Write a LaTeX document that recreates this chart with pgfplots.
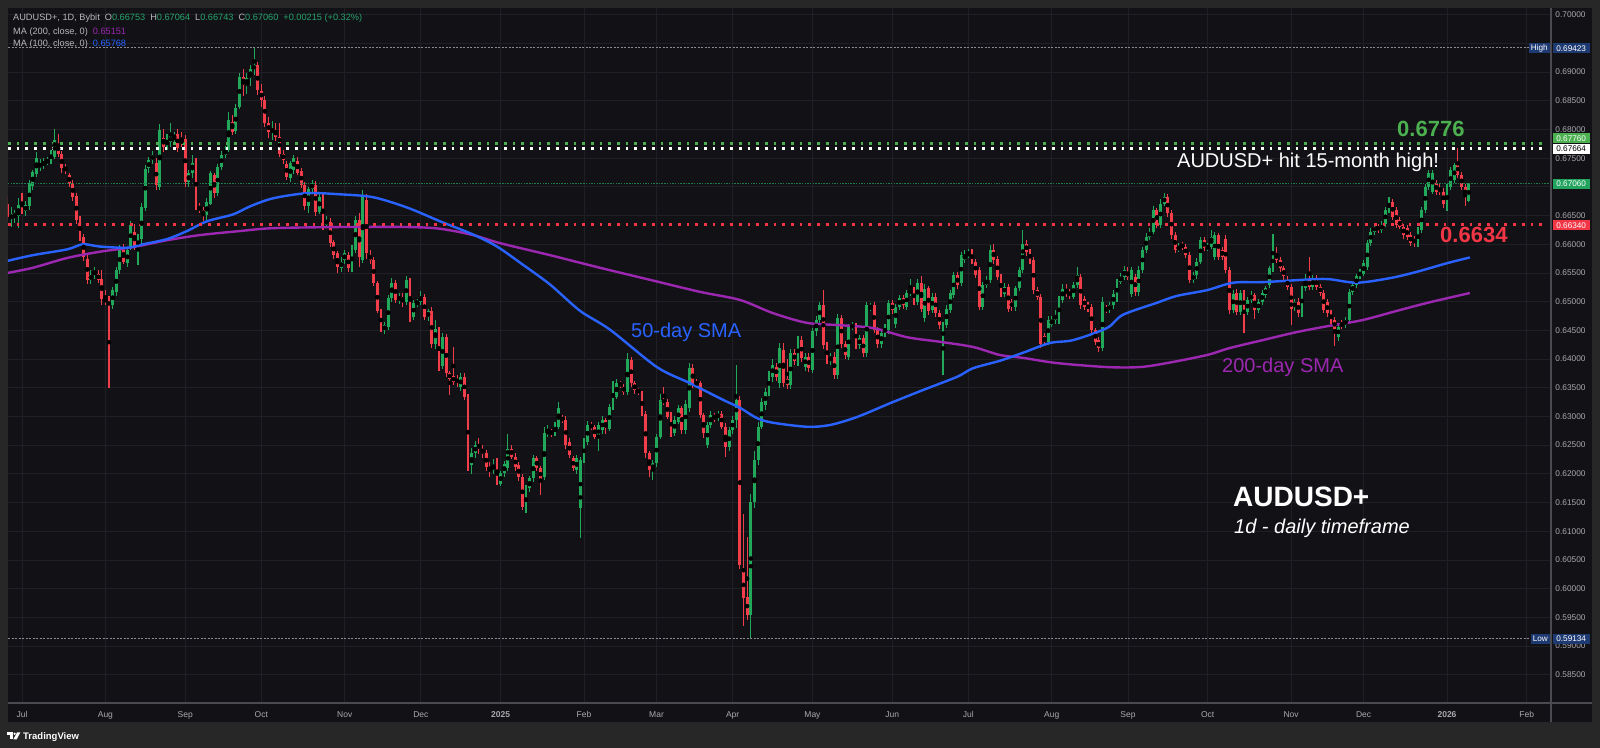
\documentclass[border=0pt]{standalone}
\usepackage{fontspec}
\setmainfont{Liberation Sans}
\usepackage{pgfplots}
\pgfplotsset{compat=1.18}
\usepackage{pgfplotstable}
\definecolor{outerbg}{HTML}{272727}
\definecolor{panelbg}{HTML}{121216}
\definecolor{gridc}{HTML}{1F1F25}
\definecolor{axisc}{HTML}{4A4A50}
\definecolor{tickc}{HTML}{A8A8AE}
\definecolor{upc}{HTML}{22A85B}
\definecolor{downc}{HTML}{F23D4A}
\definecolor{ma50}{HTML}{2962FF}
\definecolor{ma200}{HTML}{9C27B0}
\definecolor{dotgreen}{HTML}{4CAF50}
\definecolor{redlvl}{HTML}{F23645}
\definecolor{curgreen}{HTML}{1E7A4C}
\definecolor{hlgrey}{HTML}{8A8A90}
\definecolor{navy}{HTML}{1E3A72}
\definecolor{legc}{HTML}{B8B8BC}
\definecolor{legval}{HTML}{26A269}
\definecolor{pxgreen}{HTML}{22A35E}

\pgfplotstableread{
i o h l c
-4 0.6671 0.6682 0.6642 0.6648
-3 0.6645 0.6665 0.6630 0.6652
-2 0.6648 0.6660 0.6638 0.6654
-1 0.6650 0.6680 0.6628 0.6668
0 0.6676 0.6690 0.6652 0.6660
1 0.6658 0.6675 0.6650 0.6668
2 0.6666 0.6712 0.6660 0.6706
3 0.6702 0.6730 0.6695 0.6726
4 0.6722 0.6760 0.6718 0.6750
5 0.6735 0.6748 0.6728 0.6740
6 0.6740 0.6750 0.6732 0.6742
7 0.6742 0.6752 0.6738 0.6747
8 0.6747 0.6765 0.6740 0.6758
9 0.6752 0.6800 0.6748 0.6782
10 0.6775 0.6792 0.6752 0.6758
11 0.6758 0.6762 0.6725 0.6732
12 0.6734 0.6740 0.6722 0.6729
13 0.6721 0.6725 0.6700 0.6706
14 0.6706 0.6712 0.6675 0.6683
15 0.6685 0.6690 0.6635 0.6642
16 0.6642 0.6650 0.6605 0.6613
17 0.6613 0.6618 0.6570 0.6578
18 0.6575 0.6582 0.6530 0.6538
19 0.6538 0.6555 0.6530 0.6546
20 0.6550 0.6560 0.6540 0.6552
21 0.6548 0.6555 0.6532 0.6538
22 0.6540 0.6555 0.6495 0.6505
23 0.6505 0.6520 0.6495 0.6500
24 0.6500 0.6510 0.6349 0.6494
25 0.6494 0.6525 0.6488 0.6520
26 0.6517 0.6560 0.6510 0.6555
27 0.6555 0.6598 0.6548 0.6593
28 0.6590 0.6600 0.6565 0.6570
29 0.6567 0.6595 0.6560 0.6590
30 0.6596 0.6640 0.6590 0.6634
31 0.6622 0.6635 0.6590 0.6596
32 0.6596 0.6618 0.6564 0.6610
33 0.6610 0.6672 0.6600 0.6665
34 0.6663 0.6738 0.6658 0.6732
35 0.6732 0.6752 0.6725 0.6747
36 0.6747 0.6762 0.6740 0.6756
37 0.6741 0.6750 0.6695 0.6703
38 0.6700 0.6810 0.6695 0.6800
39 0.6785 0.6800 0.6760 0.6770
40 0.6770 0.6792 0.6765 0.6782
41 0.6778 0.6812 0.6770 0.6788
42 0.6785 0.6795 0.6775 0.6790
43 0.6792 0.6800 0.6760 0.6768
44 0.6783 0.6795 0.6770 0.6774
45 0.6783 0.6790 0.6700 0.6709
46 0.6709 0.6730 0.6700 0.6724
47 0.6724 0.6755 0.6715 0.6741
48 0.6741 0.6750 0.6660 0.6668
49 0.6665 0.6672 0.6655 0.6660
50 0.6660 0.6665 0.6640 0.6651
51 0.6651 0.6680 0.6642 0.6674
52 0.6671 0.6728 0.6668 0.6724
53 0.6721 0.6725 0.6680 0.6689
54 0.6689 0.6740 0.6684 0.6735
55 0.6735 0.6762 0.6730 0.6756
56 0.6756 0.6772 0.6750 0.6764
57 0.6764 0.6830 0.6760 0.6816
58 0.6813 0.6825 0.6790 0.6796
59 0.6798 0.6845 0.6792 0.6837
60 0.6840 0.6898 0.6835 0.6892
61 0.6892 0.6905 0.6858 0.6878
62 0.6878 0.6898 0.6862 0.6890
63 0.6890 0.6912 0.6875 0.6905
64 0.6905 0.6942 0.6895 0.6912
65 0.6912 0.6918 0.6860 0.6868
66 0.6868 0.6880 0.6840 0.6852
67 0.6852 0.6858 0.6805 0.6812
68 0.6812 0.6822 0.6785 0.6795
69 0.6795 0.6815 0.6782 0.6800
70 0.6800 0.6811 0.6780 0.6787
71 0.6787 0.6811 0.6752 0.6758
72 0.6758 0.6765 0.6740 0.6747
73 0.6740 0.6745 0.6712 0.6718
74 0.6715 0.6745 0.6708 0.6741
75 0.6730 0.6756 0.6722 0.6750
76 0.6745 0.6752 0.6720 0.6724
77 0.6727 0.6733 0.6698 0.6703
78 0.6703 0.6708 0.6660 0.6666
79 0.6666 0.6700 0.6655 0.6697
80 0.6697 0.6712 0.6690 0.6706
81 0.6703 0.6710 0.6650 0.6657
82 0.6657 0.6690 0.6652 0.6683
83 0.6683 0.6688 0.6625 0.6634
84 0.6634 0.6650 0.6628 0.6642
85 0.6639 0.6645 0.6595 0.6602
86 0.6604 0.6608 0.6575 0.6581
87 0.6584 0.6588 0.6550 0.6561
88 0.6558 0.6578 0.6552 0.6570
89 0.6573 0.6590 0.6565 0.6584
90 0.6581 0.6586 0.6552 0.6558
91 0.6558 0.6598 0.6552 0.6590
92 0.6590 0.6650 0.6585 0.6642
93 0.6642 0.6654 0.6560 0.6578
94 0.6573 0.6695 0.6568 0.6683
95 0.6677 0.6688 0.6575 0.6584
96 0.6581 0.6590 0.6566 0.6573
97 0.6573 0.6578 0.6528 0.6532
98 0.6532 0.6536 0.6480 0.6483
99 0.6483 0.6488 0.6448 0.6453
100 0.6450 0.6465 0.6444 0.6459
101 0.6456 0.6512 0.6450 0.6506
102 0.6506 0.6542 0.6500 0.6532
103 0.6532 0.6538 0.6498 0.6503
104 0.6503 0.6515 0.6496 0.6509
105 0.6509 0.6515 0.6490 0.6500
106 0.6500 0.6545 0.6494 0.6538
107 0.6538 0.6542 0.6465 0.6474
108 0.6474 0.6502 0.6468 0.6497
109 0.6497 0.6505 0.6490 0.6500
110 0.6500 0.6518 0.6494 0.6509
111 0.6509 0.6514 0.6468 0.6474
112 0.6474 0.6488 0.6466 0.6483
113 0.6483 0.6490 0.6420 0.6427
114 0.6427 0.6468 0.6418 0.6453
115 0.6450 0.6456 0.6380 0.6387
116 0.6387 0.6445 0.6382 0.6439
117 0.6439 0.6444 0.6368 0.6375
118 0.6375 0.6380 0.6337 0.6366
119 0.6370 0.6421 0.6355 0.6360
120 0.6366 0.6372 0.6352 0.6358
121 0.6352 0.6375 0.6345 0.6369
122 0.6369 0.6375 0.6328 0.6334
123 0.6334 0.6340 0.6205 0.6212
124 0.6215 0.6245 0.6200 0.6236
125 0.6236 0.6258 0.6228 0.6250
126 0.6250 0.6262 0.6235 0.6244
127 0.6244 0.6250 0.6228 0.6236
128 0.6236 0.6242 0.6205 0.6212
129 0.6212 0.6220 0.6195 0.6206
130 0.6206 0.6225 0.6200 0.6215
131 0.6215 0.6228 0.6180 0.6186
132 0.6183 0.6205 0.6178 0.6201
133 0.6201 0.6222 0.6195 0.6218
134 0.6210 0.6270 0.6205 0.6244
135 0.6244 0.6250 0.6225 0.6230
136 0.6230 0.6236 0.6205 0.6212
137 0.6215 0.6220 0.6188 0.6195
138 0.6195 0.6200 0.6137 0.6143
139 0.6134 0.6180 0.6131 0.6175
140 0.6175 0.6196 0.6168 0.6192
141 0.6192 0.6232 0.6185 0.6227
142 0.6227 0.6232 0.6205 0.6210
143 0.6210 0.6214 0.6163 0.6189
144 0.6195 0.6282 0.6190 0.6271
145 0.6271 0.6285 0.6265 0.6274
146 0.6274 0.6278 0.6265 0.6271
147 0.6271 0.6290 0.6266 0.6282
148 0.6282 0.6325 0.6278 0.6314
149 0.6297 0.6303 0.6288 0.6294
150 0.6294 0.6300 0.6244 0.6250
151 0.6256 0.6262 0.6228 0.6233
152 0.6227 0.6232 0.6205 0.6210
153 0.6207 0.6232 0.6200 0.6227
154 0.6140 0.6230 0.6088 0.6224
155 0.6224 0.6262 0.6218 0.6256
156 0.6256 0.6292 0.6250 0.6285
157 0.6285 0.6290 0.6276 0.6282
158 0.6282 0.6286 0.6260 0.6265
159 0.6262 0.6290 0.6240 0.6285
160 0.6276 0.6300 0.6270 0.6294
161 0.6294 0.6298 0.6270 0.6279
162 0.6279 0.6322 0.6275 0.6317
163 0.6317 0.6362 0.6312 0.6355
164 0.6334 0.6365 0.6330 0.6358
165 0.6358 0.6362 0.6350 0.6355
166 0.6352 0.6356 0.6338 0.6343
167 0.6343 0.6410 0.6338 0.6401
168 0.6398 0.6404 0.6352 0.6358
169 0.6358 0.6362 0.6340 0.6346
170 0.6346 0.6350 0.6338 0.6343
171 0.6340 0.6345 0.6300 0.6305
172 0.6305 0.6310 0.6228 0.6236
173 0.6236 0.6240 0.6195 0.6207
174 0.6207 0.6225 0.6190 0.6218
175 0.6218 0.6270 0.6212 0.6265
176 0.6265 0.6340 0.6260 0.6328
177 0.6328 0.6352 0.6320 0.6325
178 0.6325 0.6330 0.6295 0.6299
179 0.6302 0.6308 0.6265 0.6271
180 0.6271 0.6300 0.6266 0.6294
181 0.6291 0.6320 0.6286 0.6314
182 0.6314 0.6318 0.6270 0.6276
183 0.6276 0.6328 0.6270 0.6322
184 0.6314 0.6393 0.6308 0.6384
185 0.6384 0.6392 0.6350 0.6355
186 0.6361 0.6366 0.6350 0.6355
187 0.6358 0.6362 0.6298 0.6302
188 0.6302 0.6306 0.6262 0.6271
189 0.6250 0.6290 0.6245 0.6285
190 0.6285 0.6310 0.6280 0.6302
191 0.6302 0.6306 0.6290 0.6297
192 0.6297 0.6310 0.6292 0.6305
193 0.6305 0.6310 0.6278 0.6282
194 0.6282 0.6288 0.6230 0.6247
195 0.6247 0.6282 0.6240 0.6276
196 0.6276 0.6300 0.6270 0.6294
197 0.6294 0.6390 0.6280 0.6328
198 0.6328 0.6335 0.6035 0.6041
199 0.6030 0.6130 0.5934 0.5983
200 0.5985 0.6090 0.5945 0.5954
201 0.5954 0.6165 0.5913 0.6151
202 0.6151 0.6240 0.6140 0.6224
203 0.6224 0.6290 0.6215 0.6282
204 0.6282 0.6332 0.6278 0.6326
205 0.6320 0.6350 0.6312 0.6343
206 0.6343 0.6380 0.6336 0.6372
207 0.6369 0.6400 0.6360 0.6390
208 0.6387 0.6394 0.6362 0.6369
209 0.6358 0.6428 0.6350 0.6419
210 0.6416 0.6428 0.6352 0.6358
211 0.6366 0.6400 0.6348 0.6355
212 0.6355 0.6418 0.6348 0.6410
213 0.6410 0.6418 0.6390 0.6396
214 0.6396 0.6440 0.6388 0.6433
215 0.6433 0.6440 0.6395 0.6401
216 0.6387 0.6410 0.6380 0.6404
217 0.6404 0.6410 0.6378 0.6384
218 0.6381 0.6455 0.6376 0.6448
219 0.6448 0.6475 0.6440 0.6468
220 0.6468 0.6500 0.6462 0.6494
221 0.6494 0.6520 0.6418 0.6424
222 0.6424 0.6430 0.6392 0.6398
223 0.6398 0.6410 0.6390 0.6404
224 0.6404 0.6412 0.6366 0.6372
225 0.6372 0.6478 0.6365 0.6471
226 0.6471 0.6477 0.6420 0.6427
227 0.6427 0.6432 0.6400 0.6407
228 0.6404 0.6462 0.6398 0.6456
229 0.6456 0.6465 0.6450 0.6459
230 0.6456 0.6462 0.6418 0.6424
231 0.6424 0.6442 0.6418 0.6436
232 0.6436 0.6442 0.6404 0.6410
233 0.6410 0.6500 0.6404 0.6494
234 0.6488 0.6498 0.6484 0.6491
235 0.6494 0.6500 0.6445 0.6451
236 0.6451 0.6456 0.6420 0.6427
237 0.6427 0.6450 0.6420 0.6445
238 0.6445 0.6462 0.6438 0.6456
239 0.6450 0.6502 0.6444 0.6497
240 0.6497 0.6503 0.6478 0.6485
241 0.6462 0.6496 0.6455 0.6491
242 0.6491 0.6512 0.6486 0.6506
243 0.6506 0.6512 0.6488 0.6494
244 0.6491 0.6520 0.6486 0.6515
245 0.6515 0.6540 0.6510 0.6520
246 0.6520 0.6526 0.6495 0.6500
247 0.6500 0.6540 0.6495 0.6532
248 0.6532 0.6545 0.6482 0.6488
249 0.6471 0.6530 0.6465 0.6523
250 0.6523 0.6528 0.6476 0.6483
251 0.6485 0.6515 0.6480 0.6509
252 0.6509 0.6515 0.6474 0.6480
253 0.6480 0.6486 0.6452 0.6459
254 0.6430 0.6465 0.6372 0.6459
255 0.6459 0.6495 0.6454 0.6488
256 0.6485 0.6520 0.6480 0.6515
257 0.6512 0.6552 0.6506 0.6547
258 0.6547 0.6552 0.6522 0.6529
259 0.6532 0.6587 0.6527 0.6581
260 0.6573 0.6590 0.6568 0.6581
261 0.6581 0.6592 0.6576 0.6584
262 0.6587 0.6592 0.6565 0.6570
263 0.6570 0.6575 0.6542 0.6547
264 0.6555 0.6560 0.6485 0.6491
265 0.6491 0.6535 0.6486 0.6529
266 0.6529 0.6545 0.6524 0.6538
267 0.6538 0.6598 0.6532 0.6590
268 0.6590 0.6600 0.6566 0.6573
269 0.6575 0.6580 0.6538 0.6543
270 0.6543 0.6548 0.6508 0.6514
271 0.6514 0.6532 0.6508 0.6526
272 0.6526 0.6530 0.6482 0.6488
273 0.6500 0.6505 0.6484 0.6490
274 0.6490 0.6528 0.6484 0.6523
275 0.6523 0.6560 0.6518 0.6555
276 0.6555 0.6625 0.6550 0.6601
277 0.6601 0.6608 0.6580 0.6587
278 0.6587 0.6592 0.6566 0.6572
279 0.6572 0.6578 0.6514 0.6520
280 0.6520 0.6525 0.6503 0.6509
281 0.6509 0.6514 0.6420 0.6427
282 0.6440 0.6445 0.6422 0.6430
283 0.6430 0.6475 0.6425 0.6468
284 0.6460 0.6475 0.6455 0.6468
285 0.6468 0.6485 0.6462 0.6477
286 0.6468 0.6510 0.6462 0.6503
287 0.6503 0.6530 0.6498 0.6523
288 0.6520 0.6530 0.6508 0.6514
289 0.6517 0.6522 0.6505 0.6511
290 0.6509 0.6535 0.6504 0.6529
291 0.6529 0.6560 0.6524 0.6546
292 0.6543 0.6548 0.6488 0.6494
293 0.6505 0.6510 0.6485 0.6491
294 0.6494 0.6500 0.6482 0.6488
295 0.6491 0.6496 0.6444 0.6450
296 0.6450 0.6455 0.6424 0.6430
297 0.6433 0.6438 0.6413 0.6419
298 0.6419 0.6508 0.6414 0.6500
299 0.6488 0.6494 0.6480 0.6485
300 0.6485 0.6500 0.6480 0.6494
301 0.6494 0.6520 0.6488 0.6514
302 0.6505 0.6540 0.6500 0.6535
303 0.6535 0.6550 0.6530 0.6543
304 0.6543 0.6562 0.6538 0.6555
305 0.6552 0.6560 0.6538 0.6543
306 0.6514 0.6560 0.6508 0.6555
307 0.6543 0.6548 0.6510 0.6517
308 0.6517 0.6562 0.6510 0.6555
309 0.6555 0.6596 0.6550 0.6590
310 0.6590 0.6620 0.6585 0.6613
311 0.6613 0.6628 0.6608 0.6622
312 0.6622 0.6666 0.6618 0.6660
313 0.6660 0.6664 0.6628 0.6634
314 0.6634 0.6678 0.6628 0.6671
315 0.6671 0.6689 0.6666 0.6683
316 0.6683 0.6688 0.6648 0.6654
317 0.6654 0.6660 0.6610 0.6616
318 0.6616 0.6622 0.6585 0.6590
319 0.6590 0.6602 0.6586 0.6596
320 0.6599 0.6604 0.6590 0.6596
321 0.6596 0.6601 0.6576 0.6581
322 0.6581 0.6586 0.6532 0.6538
323 0.6538 0.6552 0.6533 0.6546
324 0.6546 0.6576 0.6540 0.6570
325 0.6570 0.6612 0.6565 0.6607
326 0.6607 0.6612 0.6588 0.6593
327 0.6593 0.6602 0.6588 0.6596
328 0.6596 0.6625 0.6591 0.6613
329 0.6578 0.6622 0.6572 0.6616
330 0.6616 0.6620 0.6572 0.6578
331 0.6590 0.6596 0.6573 0.6578
332 0.6610 0.6616 0.6550 0.6555
333 0.6555 0.6560 0.6478 0.6485
334 0.6485 0.6520 0.6480 0.6514
335 0.6515 0.6522 0.6476 0.6482
336 0.6482 0.6520 0.6476 0.6515
337 0.6515 0.6520 0.6445 0.6482
338 0.6482 0.6508 0.6476 0.6503
339 0.6503 0.6518 0.6498 0.6512
340 0.6511 0.6516 0.6470 0.6485
341 0.6485 0.6505 0.6480 0.6500
342 0.6500 0.6520 0.6495 0.6515
343 0.6512 0.6528 0.6506 0.6523
344 0.6529 0.6562 0.6524 0.6558
345 0.6558 0.6617 0.6552 0.6584
346 0.6584 0.6595 0.6568 0.6573
347 0.6573 0.6578 0.6552 0.6558
348 0.6558 0.6563 0.6538 0.6544
349 0.6538 0.6545 0.6520 0.6526
350 0.6526 0.6530 0.6460 0.6488
351 0.6490 0.6505 0.6484 0.6500
352 0.6500 0.6506 0.6474 0.6480
353 0.6480 0.6528 0.6474 0.6523
354 0.6523 0.6548 0.6518 0.6538
355 0.6538 0.6578 0.6520 0.6526
356 0.6526 0.6546 0.6520 0.6541
357 0.6541 0.6546 0.6520 0.6526
358 0.6526 0.6531 0.6510 0.6515
359 0.6515 0.6520 0.6480 0.6485
360 0.6500 0.6505 0.6474 0.6480
361 0.6480 0.6485 0.6462 0.6468
362 0.6468 0.6474 0.6422 0.6453
363 0.6439 0.6462 0.6432 0.6456
364 0.6462 0.6468 0.6452 0.6459
365 0.6459 0.6474 0.6454 0.6468
366 0.6468 0.6522 0.6462 0.6517
367 0.6517 0.6534 0.6512 0.6529
368 0.6529 0.6549 0.6524 0.6544
369 0.6544 0.6557 0.6540 0.6552
370 0.6548 0.6572 0.6544 0.6567
371 0.6561 0.6607 0.6556 0.6602
372 0.6602 0.6628 0.6597 0.6622
373 0.6622 0.6636 0.6617 0.6631
374 0.6631 0.6636 0.6620 0.6625
375 0.6625 0.6640 0.6620 0.6634
376 0.6636 0.6665 0.6630 0.6660
377 0.6660 0.6682 0.6655 0.6674
378 0.6674 0.6679 0.6643 0.6648
379 0.6660 0.6665 0.6628 0.6634
380 0.6642 0.6647 0.6626 0.6631
381 0.6631 0.6636 0.6610 0.6616
382 0.6628 0.6633 0.6608 0.6613
383 0.6616 0.6621 0.6597 0.6602
384 0.6610 0.6615 0.6596 0.6602
385 0.6602 0.6630 0.6596 0.6625
386 0.6625 0.6665 0.6620 0.6660
387 0.6660 0.6705 0.6655 0.6700
388 0.6700 0.6730 0.6695 0.6724
389 0.6692 0.6730 0.6688 0.6724
390 0.6706 0.6712 0.6686 0.6692
391 0.6697 0.6705 0.6686 0.6692
392 0.6692 0.6698 0.6663 0.6671
393 0.6663 0.6705 0.6658 0.6700
394 0.6700 0.6734 0.6695 0.6729
395 0.6712 0.6742 0.6706 0.6738
396 0.6741 0.6767 0.6715 0.6721
397 0.6721 0.6726 0.6695 0.6700
398 0.6700 0.6705 0.6666 0.6683
399 0.66753 0.67064 0.66743 0.67060
}\candles

\begin{document}
\begin{tikzpicture}
\fill[outerbg] (0,0) rectangle (1600bp,748bp);
\fill[panelbg] (8bp,26bp) rectangle (1592bp,740bp);
\begin{axis}[
  at={(8bp,45bp)}, anchor=south west,
  scale only axis, width=1543bp, height=695bp,
  xmin=-3.861, xmax=421.68, ymin=0.580066, ymax=0.701167,
  axis line style={draw=none}, tick style={draw=none}, major tick length=0pt,
  grid=major, major grid style={draw=gridc, line width=0.8bp},
  xtick={0,23,45,66,89,110,132,155,175,196,218,240,261,284,305,327,350,370,393,415},
  xticklabels={Jul,Aug,Sep,Oct,Nov,Dec,\textbf{2025},Feb,Mar,Apr,May,Jun,Jul,Aug,Sep,Oct,Nov,Dec,\textbf{2026},Feb},
  ytick={0.585,0.59,0.595,0.60,0.605,0.61,0.615,0.62,0.625,0.63,0.635,0.64,0.645,0.65,0.655,0.66,0.665,0.67,0.675,0.68,0.685,0.69,0.695,0.70},
  yticklabels={0.58500,0.59000,0.59500,0.60000,0.60500,0.61000,0.61500,0.62000,0.62500,0.63000,0.63500,0.64000,0.64500,0.65000,0.65500,0.66000,0.66500,{},0.67500,0.68000,0.68500,0.69000,{},0.70000},
  yticklabel pos=right,
  xticklabel style={font=\fontsize{8.5bp}{10bp}\selectfont, text=tickc, anchor=base, yshift=-14bp},
  yticklabel style={font=\fontsize{8.3bp}{10bp}\selectfont, text=tickc, anchor=center, xshift=19.5bp},
]
% wicks
\addplot[only marks, mark=none, forget plot, restrict expr to domain={\thisrow{c}-\thisrow{o}}{0:1},
  error bars/.cd, y dir=both, y explicit, error mark=none,
  error bar style={line width=1.1bp, draw=upc}]
  table[x=i, y expr={(\thisrow{h}+\thisrow{l})/2}, y error expr={(\thisrow{h}-\thisrow{l})/2}] {\candles};
\addplot[only marks, mark=none, forget plot, restrict expr to domain={\thisrow{c}-\thisrow{o}}{-1:-0.0000001},
  error bars/.cd, y dir=both, y explicit, error mark=none,
  error bar style={line width=1.1bp, draw=downc}]
  table[x=i, y expr={(\thisrow{h}+\thisrow{l})/2}, y error expr={(\thisrow{h}-\thisrow{l})/2}] {\candles};
% bodies
\addplot[only marks, mark=none, forget plot, restrict expr to domain={\thisrow{c}-\thisrow{o}}{0:1},
  error bars/.cd, y dir=both, y explicit, error mark=none,
  error bar style={line width=2.9bp, draw=upc}]
  table[x=i, y expr={(\thisrow{o}+\thisrow{c})/2}, y error expr={max(abs(\thisrow{c}-\thisrow{o})/2,0.00009)}] {\candles};
\addplot[only marks, mark=none, forget plot, restrict expr to domain={\thisrow{c}-\thisrow{o}}{-1:-0.0000001},
  error bars/.cd, y dir=both, y explicit, error mark=none,
  error bar style={line width=2.9bp, draw=downc}]
  table[x=i, y expr={(\thisrow{o}+\thisrow{c})/2}, y error expr={max(abs(\thisrow{c}-\thisrow{o})/2,0.00009)}] {\candles};

% 200-day SMA
\addplot[smooth, tension=0.5, line width=2.4bp, ma200] coordinates {
(-4,0.6550) (3.0,0.6559) (12.4,0.6576) (21.5,0.6587) (30.6,0.6595) (40.0,0.6607) (49.1,0.6616) (60.1,0.6623) (69.2,0.6628) (87.7,0.6630) (106.2,0.6630) (115.3,0.6627) (124.4,0.6616) (131.8,0.6602) (145.6,0.6581) (159.4,0.6559) (173.2,0.6538) (187.0,0.6517) (198.0,0.6503) (207.1,0.6480) (216.5,0.6463) (225.6,0.6459) (234.7,0.6454) (244.1,0.6438) (253.2,0.6430) (262.3,0.6421) (269.7,0.6407) (276.1,0.6402) (285.4,0.6393) (299.2,0.6386) (308.3,0.6386) (315.8,0.6393) (326.8,0.6407) (333,0.6419) (342.2,0.6433) (351.6,0.6447) (360.7,0.6458) (369.8,0.6468) (379.2,0.6484) (388.3,0.6499) (399.3,0.6515)};
% 50-day SMA
\addplot[smooth, tension=0.5, line width=2.4bp, ma50] coordinates {
(-4,0.6571) (3.0,0.6581) (12.4,0.6591) (16.8,0.6600) (21.5,0.6596) (29.0,0.6594) (33.4,0.6600) (40.0,0.6609) (45.5,0.6623) (51.0,0.6640) (58.2,0.6652) (62.9,0.6666) (69.2,0.6680) (78.6,0.6689) (87.7,0.6687) (96.8,0.6682) (106.2,0.6664) (115.3,0.6640) (124.4,0.6617) (131.0,0.6596) (138,0.6565) (145.6,0.6530) (153.9,0.6484) (162.2,0.6451) (175.1,0.6386) (184.2,0.6358) (193.3,0.6329) (198.0,0.6315) (202.7,0.6297) (207.1,0.6289) (216.5,0.6282) (222.8,0.6285) (230.3,0.6299) (239.4,0.6323) (248.5,0.6346) (257.9,0.6369) (262.3,0.6384) (269.7,0.6397) (276.1,0.6411) (283.5,0.6428) (289.9,0.6433) (299.2,0.6454) (303.6,0.6477) (313.0,0.6498) (318.5,0.6510) (326.8,0.6520) (334.0,0.6533) (342.2,0.6534) (356.0,0.6539) (360.7,0.6539) (368.2,0.6533) (377.3,0.6541) (384.7,0.6552) (393.0,0.6567) (399.3,0.6577)};

% high / low / current price lines
\addplot[line width=0.7bp, hlgrey, dash pattern=on 2bp off 1.5bp] coordinates {(-3.861,0.69423) (415.8,0.69423)};
\addplot[line width=0.7bp, hlgrey, dash pattern=on 2bp off 1.5bp] coordinates {(-3.861,0.59134) (415.8,0.59134)};
\addplot[line width=0.8bp, curgreen, dash pattern=on 1.5bp off 1.2bp] coordinates {(-3.861,0.6706) (421.68,0.6706)};
% level lines
\addplot[line width=2.7bp, dotgreen, dash pattern=on 2.7bp off 6bp] coordinates {(-3.861,0.6776) (420,0.6776)};
\addplot[line width=2.7bp, white, dash pattern=on 2.7bp off 6bp] coordinates {(-3.861,0.67664) (420,0.67664)};
\addplot[line width=2.7bp, redlvl, dash pattern=on 2.7bp off 6bp] coordinates {(-3.861,0.6634) (420,0.6634)};
\end{axis}

% axis lines
\draw[axisc, line width=1.5bp] (8bp,45bp) -- (1592bp,45bp);
\draw[axisc, line width=1.5bp] (1551bp,26bp) -- (1551bp,740bp);

% price labels on the scale
\tikzset{pbox/.style={inner sep=0pt, minimum width=37bp, minimum height=10bp, font=\fontsize{8.2bp}{10bp}\selectfont, anchor=west}}
\node[pbox, fill=navy, text=white, minimum width=21bp, anchor=east] at (1550bp,699.7bp) {High};
\node[pbox, fill=navy, text=white] at (1552.5bp,699.7bp) {0.69423};
\node[pbox, fill=dotgreen, text=white] at (1552.5bp,609.7bp) {0.67760};
\node[pbox, fill=white, text=black] at (1552.5bp,599bp) {0.67664};
\node[pbox, fill=pxgreen, text=white] at (1552.5bp,564.3bp) {0.67060};
\node[pbox, fill=redlvl, text=white] at (1552.5bp,522.7bp) {0.66340};
\node[pbox, fill=navy, text=white, minimum width=19bp, anchor=east] at (1550bp,109bp) {Low};
\node[pbox, fill=navy, text=white] at (1552.5bp,109bp) {0.59134};

% legend (top left)
\node[anchor=base west, inner sep=0pt, font=\fontsize{9.2bp}{11bp}\selectfont, text=legc] at (13bp,727bp)
 {AUDUSD+, 1D, Bybit\hspace{5bp}O\textcolor{legval}{0.66753}\hspace{5bp}H\textcolor{legval}{0.67064}\hspace{5bp}L\textcolor{legval}{0.66743}\hspace{5bp}C\textcolor{legval}{0.67060}\hspace{5bp}\textcolor{legval}{+0.00215 (+0.32\%)}};
\node[anchor=base west, inner sep=0pt, font=\fontsize{9.2bp}{11bp}\selectfont, text=legc] at (13bp,713.5bp)
 {MA (200, close, 0)\hspace{5bp}\textcolor{ma200}{0.65151}};
\node[anchor=base west, inner sep=0pt, font=\fontsize{9.2bp}{11bp}\selectfont, text=legc] at (13bp,701.5bp)
 {MA (100, close, 0)\hspace{5bp}\textcolor{ma50}{0.65768}};

% annotations
\node[anchor=base west, inner sep=0pt, font=\bfseries\fontsize{22bp}{26bp}\selectfont, text=dotgreen] at (1397bp,611bp) {0.6776};
\node[anchor=base west, inner sep=0pt, font=\fontsize{20bp}{24bp}\selectfont, text=white] at (1177bp,580bp) {AUDUSD+ hit 15-month high!};
\node[anchor=base west, inner sep=0pt, font=\bfseries\fontsize{22bp}{26bp}\selectfont, text=redlvl] at (1440bp,505bp) {0.6634};
\node[anchor=base west, inner sep=0pt, font=\fontsize{20bp}{24bp}\selectfont, text=ma50] at (631bp,410bp) {50-day SMA};
\node[anchor=base west, inner sep=0pt, font=\fontsize{20bp}{24bp}\selectfont, text=ma200] at (1222bp,375bp) {200-day SMA};
\node[anchor=base west, inner sep=0pt, font=\bfseries\fontsize{28bp}{32bp}\selectfont, text=white] at (1233bp,241bp) {AUDUSD+};
\node[anchor=base west, inner sep=0pt, font=\itshape\fontsize{20bp}{24bp}\selectfont, text=white] at (1234bp,214bp) {1d - daily timeframe};

% TradingView logo
\fill[white] (7bp,15.5bp) rectangle (12.5bp,13.2bp);
\fill[white] (9.6bp,8.5bp) rectangle (12.5bp,15.5bp);
\fill[white] (14.6bp,14.2bp) circle (1.3bp);
\fill[white] (17bp,15.5bp) -- (20.3bp,15.5bp) -- (16.6bp,8.5bp) -- (13.3bp,8.5bp) -- cycle;
\node[anchor=base west, inner sep=0pt, font=\bfseries\fontsize{9.5bp}{11bp}\selectfont, text=white] at (23bp,8.6bp) {TradingView};
\end{tikzpicture}
\end{document}
